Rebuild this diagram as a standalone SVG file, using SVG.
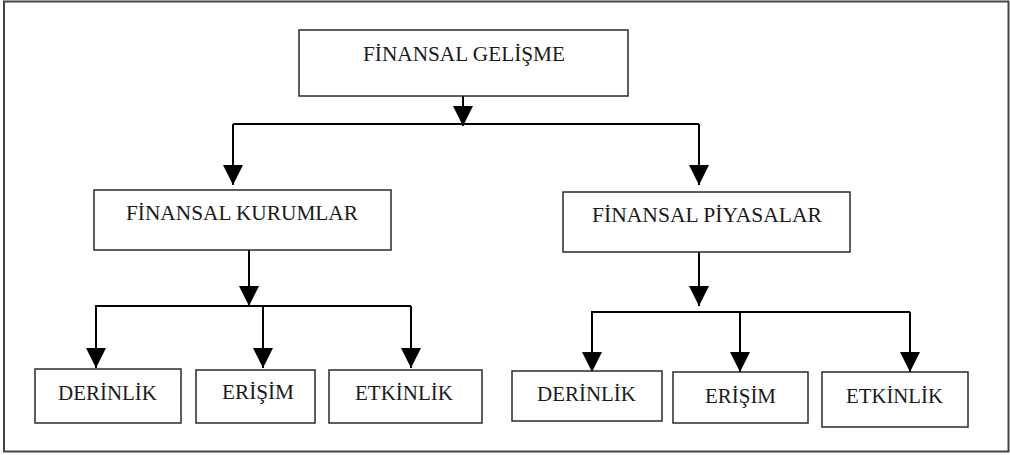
<svg xmlns="http://www.w3.org/2000/svg" width="1010" height="455" viewBox="0 0 1010 455">
<defs>
<style>
.box{fill:#fff;stroke:#2a2a2a;stroke-width:1.5}
.lbl{font-family:"Liberation Serif","Times New Roman",serif;font-size:21px;fill:#1a1a1a}
.con{fill:none;stroke:#000;stroke-width:2}
</style>
<marker id="ah" markerUnits="userSpaceOnUse" markerWidth="20" markerHeight="20" viewBox="0 0 20 20" refX="20" refY="10" orient="auto">
<path d="M0,0 L20,10 L0,20 z" fill="#000"/>
</marker>
</defs>
<rect x="0" y="0" width="1010" height="455" fill="#fff"/>
<rect x="4" y="1.5" width="1004.5" height="450" fill="none" stroke="#444" stroke-width="2"/>
<g id="connectors">
<path class="con" d="M463,96 V126" marker-end="url(#ah)"/>
<path class="con" d="M233,124 H699"/>
<path class="con" d="M233,124 V185" marker-end="url(#ah)"/>
<path class="con" d="M699,124 V185" marker-end="url(#ah)"/>
<path class="con" d="M249,250 V306" marker-end="url(#ah)"/>
<path class="con" d="M95,306 H411"/>
<path class="con" d="M96,306 V368" marker-end="url(#ah)"/>
<path class="con" d="M263,306 V368" marker-end="url(#ah)"/>
<path class="con" d="M411,306 V368" marker-end="url(#ah)"/>
<path class="con" d="M699,252 V306" marker-end="url(#ah)"/>
<path class="con" d="M591,312 H910"/>
<path class="con" d="M592,312 V372" marker-end="url(#ah)"/>
<path class="con" d="M740,312 V372" marker-end="url(#ah)"/>
<path class="con" d="M910,312 V372" marker-end="url(#ah)"/>
</g>
<g id="n-gelisme">
<rect class="box" x="299" y="30" width="329" height="66"/>
<text class="lbl" x="363" y="61" textLength="202" lengthAdjust="spacingAndGlyphs">FİNANSAL GELİŞME</text>
</g>
<g id="n-kurumlar">
<rect class="box" x="94" y="190" width="297" height="60"/>
<text class="lbl" x="126" y="220" textLength="232" lengthAdjust="spacingAndGlyphs">FİNANSAL KURUMLAR</text>
</g>
<g id="n-piyasalar">
<rect class="box" x="563" y="192" width="287" height="60"/>
<text class="lbl" x="592" y="222" textLength="230" lengthAdjust="spacingAndGlyphs">FİNANSAL PİYASALAR</text>
</g>
<g id="n-k-derinlik">
<rect class="box" x="35" y="369" width="146" height="54"/>
<text class="lbl" x="58" y="400" textLength="99" lengthAdjust="spacingAndGlyphs">DERİNLİK</text>
</g>
<g id="n-k-erisim">
<rect class="box" x="196" y="370" width="119" height="53"/>
<text class="lbl" x="222" y="399" textLength="72" lengthAdjust="spacingAndGlyphs">ERİŞİM</text>
</g>
<g id="n-k-etkinlik">
<rect class="box" x="329" y="370" width="153" height="53"/>
<text class="lbl" x="355" y="400" textLength="98" lengthAdjust="spacingAndGlyphs">ETKİNLİK</text>
</g>
<g id="n-p-derinlik">
<rect class="box" x="512" y="371" width="150" height="50"/>
<text class="lbl" x="537" y="401" textLength="99" lengthAdjust="spacingAndGlyphs">DERİNLİK</text>
</g>
<g id="n-p-erisim">
<rect class="box" x="673" y="372" width="135" height="51"/>
<text class="lbl" x="705" y="403" textLength="71" lengthAdjust="spacingAndGlyphs">ERİŞİM</text>
</g>
<g id="n-p-etkinlik">
<rect class="box" x="822" y="372" width="146" height="55"/>
<text class="lbl" x="846" y="403" textLength="97" lengthAdjust="spacingAndGlyphs">ETKİNLİK</text>
</g>
</svg>
